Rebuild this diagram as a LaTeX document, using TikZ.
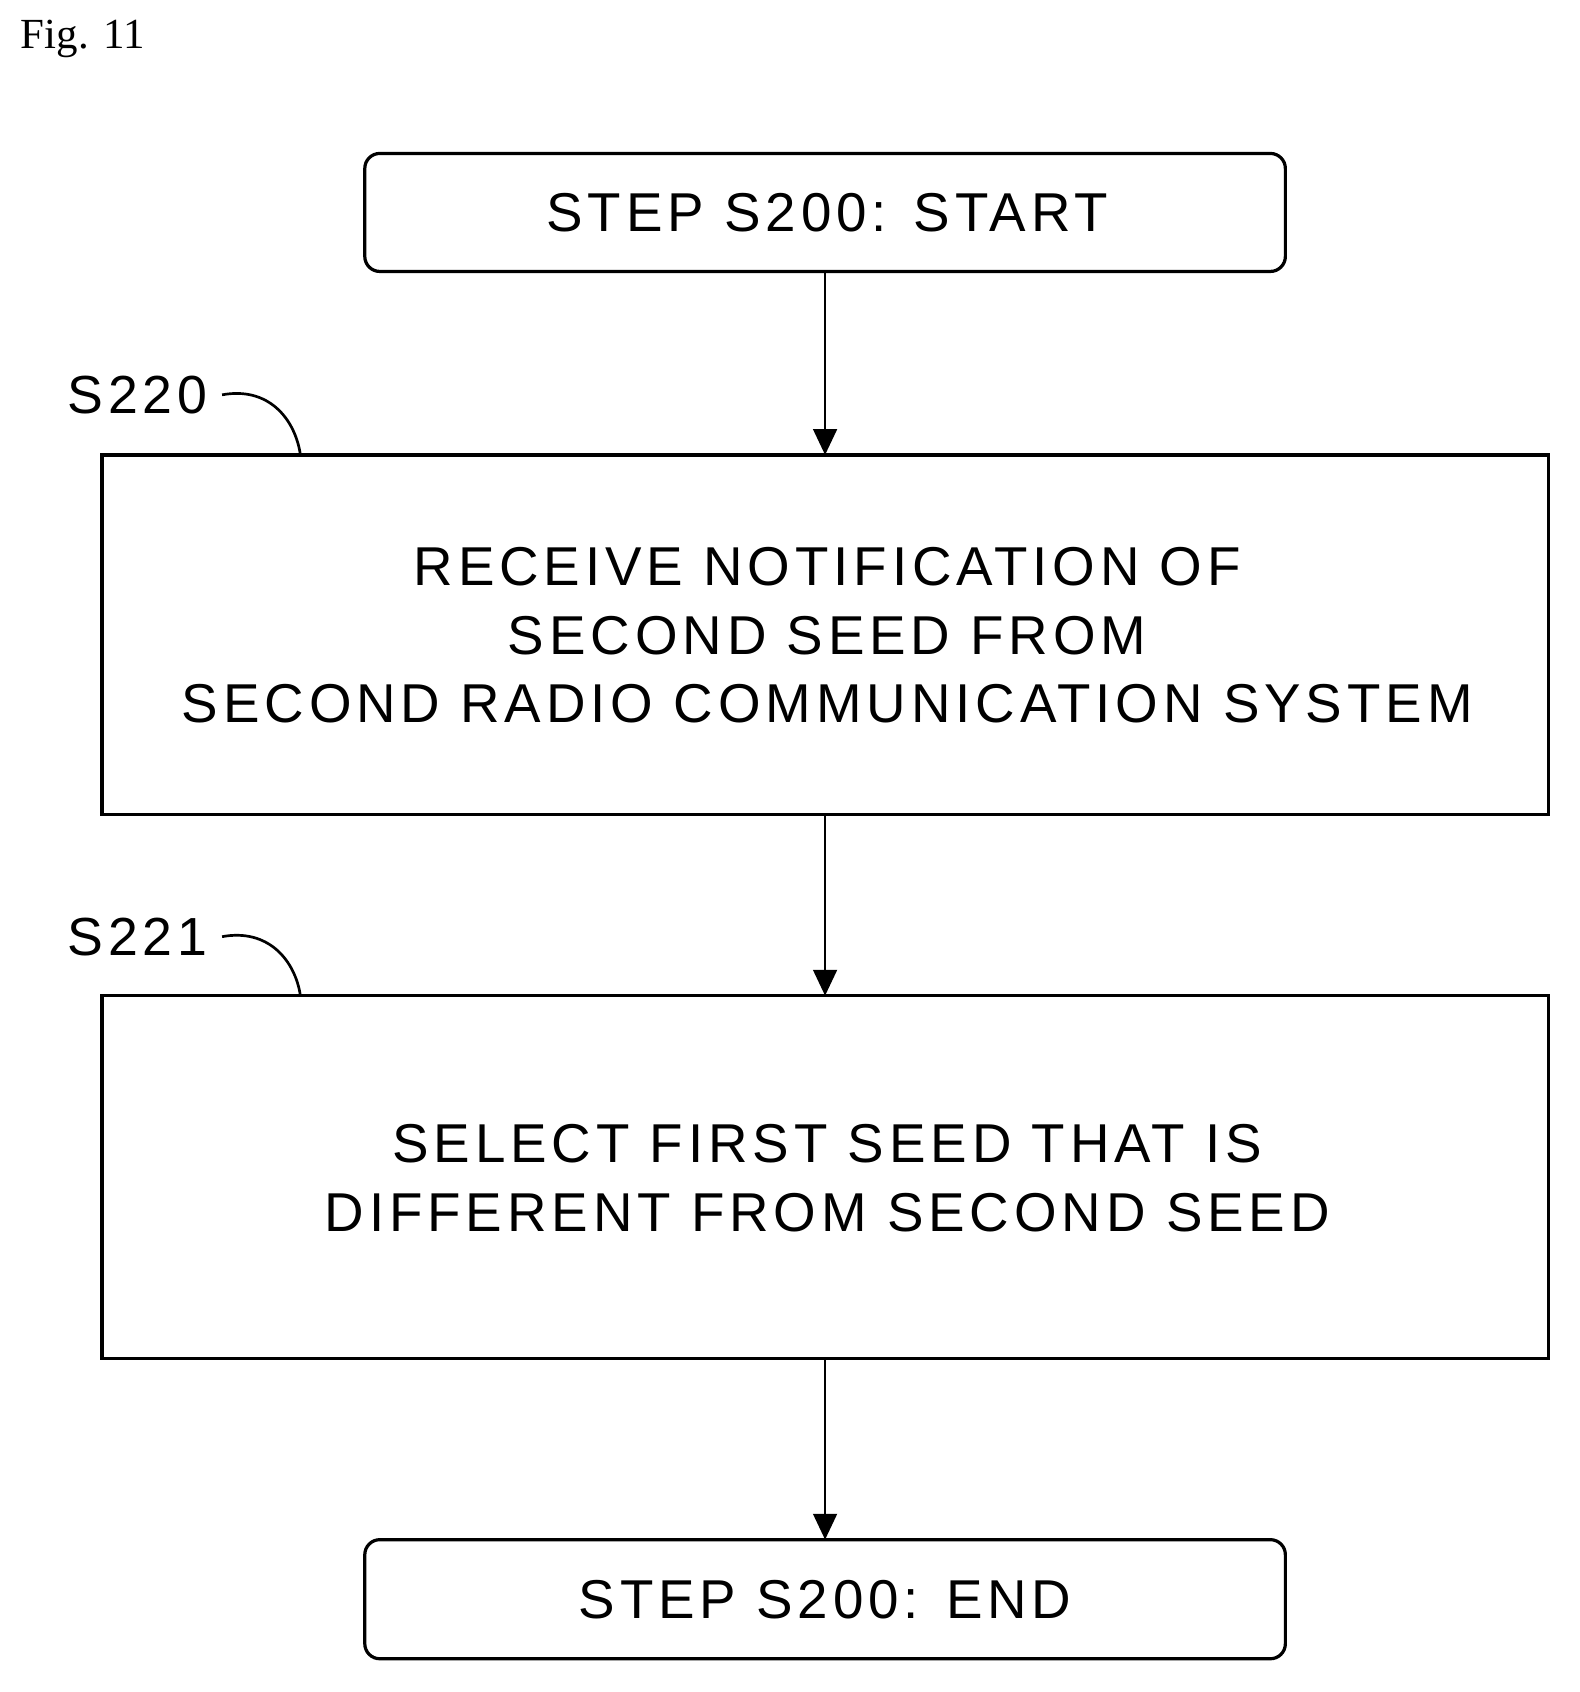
\documentclass[tikz,border=0pt]{standalone}
\usepackage{fontspec}
\setmainfont{Liberation Sans}[LetterSpace=9]
\newfontfamily\serif{Liberation Serif}
\usetikzlibrary{arrows.meta}
\begin{document}
\begin{tikzpicture}[x=1pt,y=-1pt,
  box/.style={draw,line width=3pt,inner sep=0pt},
  rbox/.style={box,rounded corners=14pt},
  txt/.style={font=\fontsize{51}{64}\selectfont,align=center},
  lab/.style={font=\fontsize{50}{56}\selectfont},
  arr/.style={line width=2.5pt,-{Triangle[length=24pt,width=22pt]}},
  lead/.style={line width=2.5pt}]
\useasboundingbox (0,0) rectangle (1472,1577);
\node[anchor=west,font=\serif\fontsize{40}{44}\selectfont] (fig) at (16,36) {Fig. 11};
\draw[rbox] (340,143) rectangle (1198,253);
\node[txt] (start) at (771,198) {STEP S200: START};
\coordinate (startb) at (769,253);
\draw[box] (95,424) rectangle (1443,759);
\node[txt] (b1) at (771,592) {RECEIVE NOTIFICATION OF\\SECOND SEED FROM\\SECOND RADIO COMMUNICATION SYSTEM};
\coordinate (b1t) at (769,424);
\coordinate (b1b) at (769,759);
\draw[box] (95,928) rectangle (1443,1266);
\node[txt] (b2) at (771,1098) {SELECT FIRST SEED THAT IS\\DIFFERENT FROM SECOND SEED};
\coordinate (b2t) at (769,928);
\coordinate (b2b) at (769,1266);
\draw[rbox] (340,1435) rectangle (1198,1546);
\node[txt] (end) at (769,1491) {STEP S200: END};
\coordinate (endt) at (769,1435);
\draw[arr] (startb) -- (b1t);
\draw[arr] (b1b) -- (b2t);
\draw[arr] (b2b) -- (endt);
\node[lab] (l1) at (128,368) {S220};
\node[lab] (l2) at (128,873) {S221};
\coordinate (c1) at (280,424);
\coordinate (c2) at (280,928);
\draw[lead] (207,368) .. controls (250,360) and (275,390) .. (c1);
\draw[lead] (207,873) .. controls (250,865) and (275,895) .. (c2);
\end{tikzpicture}
\end{document}
